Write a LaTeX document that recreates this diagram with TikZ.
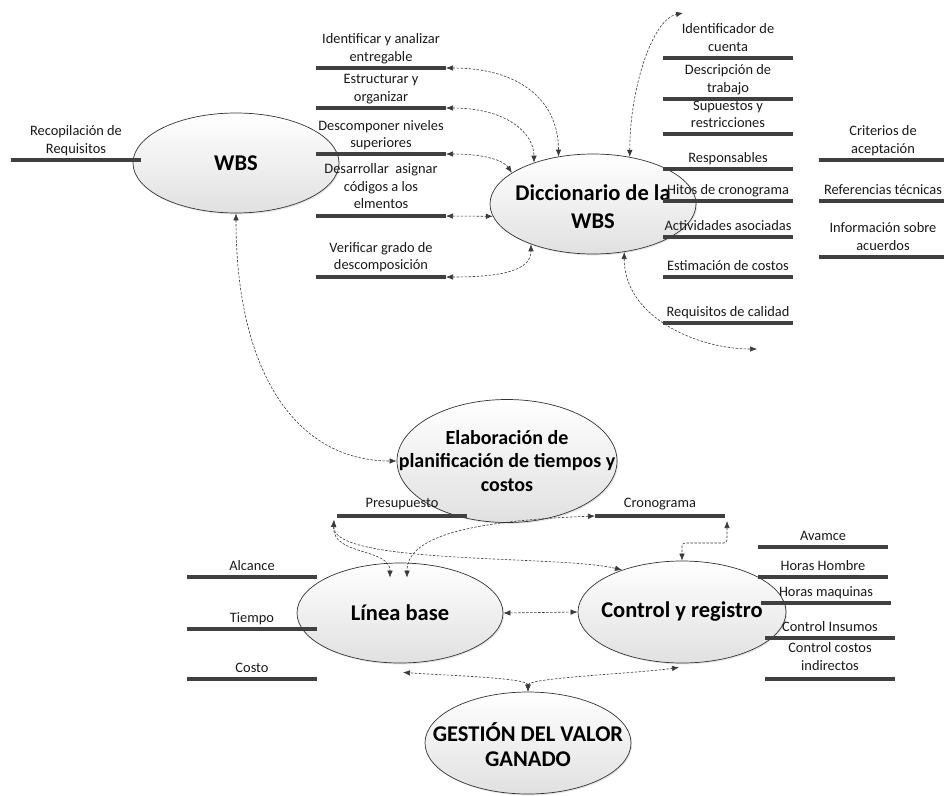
\documentclass[tikz,border=0pt]{standalone}
\usepackage{fontspec}
\setmainfont{Carlito}
\usetikzlibrary{shapes.geometric,arrows.meta,shadows,calc}
\definecolor{barc}{HTML}{404040}
\definecolor{linec}{HTML}{3A3A3A}
\begin{document}
\begin{tikzpicture}[x=1pt,y=-1pt,
  proc/.style={ellipse, draw=black!80, line width=0.7pt, top color=white, bottom color=black!12, inner sep=0pt,
     drop shadow={shadow xshift=1.2pt, shadow yshift=-1.4pt, opacity=0.2}},
  ptext/.style={font=\fontsize{22.5}{28}\selectfont\bfseries, align=center, inner sep=0pt},
  bar/.style={draw=barc, line width=4.6pt},
  lbl/.style={font=\fontsize{14.4}{17.5}\selectfont, align=center, anchor=base, inner sep=0pt, text=black!90},
  conn/.style={draw=linec, line width=0.6pt, dash pattern=on 2.5pt off 1.5pt,
     arrows={Latex[length=7pt,width=5.5pt]-Latex[length=7pt,width=5.5pt]}},
]
\useasboundingbox (0,0) rectangle (944,795);
\newcommand{\mkbar}[4]{\coordinate (#1a) at (#2,#4); \coordinate (#1b) at (#3,#4); \draw[bar] (#1a) -- (#1b);}

% ---------- processes ----------
\node[proc, minimum width=206, minimum height=100] (wbs) at (236,163) {};
\node[ptext] (wbst) at (wbs.center) {WBS};
\node[proc, minimum width=206, minimum height=100] (dic) at (593,204) {};
\node[ptext] (dict) at ($(dic.center)+(0,3)$) {Diccionario de la\\WBS};
\node[proc, minimum width=220, minimum height=123] (elab) at (507,461) {};
\node[ptext, font=\fontsize{20}{23.5}\selectfont\bfseries] (elabt) at ($(elab.center)+(0,0)$) {Elaboración de\\planificación de tiempos y\\costos};
\node[proc, minimum width=206, minimum height=100] (lb) at (400,613) {};
\node[ptext] (lbt) at (lb.center) {Línea base};
\node[proc, minimum width=208, minimum height=102] (ctl) at (682,612) {};
\node[ptext] (ctlt) at (ctl.center) {Control y registro};
\node[proc, minimum width=206, minimum height=102] (gv) at (528,743) {};
\node[ptext, font=\fontsize{22.5}{25}\selectfont\bfseries] (gvt) at ($(gv.center)+(0,2)$) {GESTIÓN DEL VALOR\\GANADO};

% ---------- data stores (label base = baseline of last line) ----------
\mkbar{rq}{11}{141}{160}
\node[lbl] (rqt) at (76,153) {Recopilación de\\Requisitos};

\mkbar{w1}{316}{446}{68}
\node[lbl] (w1t) at (381,61) {Identificar y analizar\\entregable};
\mkbar{w2}{316}{446}{108}
\node[lbl] (w2t) at (381,101) {Estructurar y\\organizar};
\mkbar{w3}{316}{446}{154}
\node[lbl] (w3t) at (381,147.5) {Descomponer niveles\\superiores};
\mkbar{w4}{316}{446}{216}
\node[lbl] (w4t) at (381,208.5) {Desarrollar\ \ asignar\\códigos a los\\elmentos};
\mkbar{w5}{316}{446}{277}
\node[lbl] (w5t) at (381,269.5) {Verificar grado de\\descomposición};

\mkbar{d1}{663}{793}{58}
\node[lbl] (d1t) at (728,51) {Identificador de\\cuenta};
\mkbar{d2}{663}{793}{99}
\node[lbl] (d2t) at (728,92) {Descripción de\\trabajo};
\mkbar{d3}{663}{793}{134}
\node[lbl] (d3t) at (728,127.5) {Supuestos y\\restricciones};
\mkbar{d4}{663}{793}{169}
\node[lbl] (d4t) at (728,162) {Responsables};
\mkbar{d5}{663}{793}{201}
\node[lbl] (d5t) at (728,194) {Hitos de cronograma};
\mkbar{d6}{663}{793}{237}
\node[lbl] (d6t) at (728,230) {Actividades asociadas};
\mkbar{d7}{663}{793}{277}
\node[lbl] (d7t) at (728,270) {Estimación de costos};
\mkbar{d8}{663}{793}{323}
\node[lbl] (d8t) at (728,316) {Requisitos de calidad};

\mkbar{f1}{819}{944}{160}
\node[lbl] (f1t) at (883,153) {Criterios de\\aceptación};
\mkbar{f2}{819}{944}{201}
\node[lbl] (f2t) at (883,194) {Referencias técnicas};
\mkbar{f3}{819}{944}{257}
\node[lbl] (f3t) at (883,250) {Información sobre\\acuerdos};

\mkbar{pr}{337}{467}{516}
\node[lbl] (prt) at (402,507) {Presupuesto};
\mkbar{cr}{595}{725}{516}
\node[lbl] (crt) at (660,507) {Cronograma};

\mkbar{al}{187}{317}{577}
\node[lbl] (alt) at (252,570) {Alcance};
\mkbar{ti}{187}{317}{629}
\node[lbl] (tit) at (252,622) {Tiempo};
\mkbar{co}{187}{317}{679}
\node[lbl] (cot) at (252,672) {Costo};

\mkbar{c1}{758}{888}{547}
\node[lbl] (c1t) at (823,540) {Avamce};
\mkbar{c2}{758}{888}{577}
\node[lbl] (c2t) at (823,570) {Horas Hombre};
\mkbar{c3}{761}{891}{603}
\node[lbl] (c3t) at (826,596) {Horas maquinas};
\mkbar{c4}{765}{895}{638}
\node[lbl] (c4t) at (830,631) {Control Insumos};
\mkbar{c5}{765}{895}{679}
\node[lbl] (c5t) at (830,670) {Control costos\\indirectos};

% ---------- free ends ----------
\coordinate (tup) at (683,13);
\coordinate (tdn) at (757,349);

% ---------- connectors ----------
\draw[conn] (w1b) .. controls +(75,0) and +(0,-55) .. (dic.126);
\draw[conn] (w2b) .. controls +(60,0) and +(0,-30) .. (dic.145);
\draw[conn] (w3b) .. controls +(40,0) and +(-8,-12) .. (dic.159);
\draw[conn] (w4b) -- (dic.187);
\draw[conn] (w5b) .. controls +(60,0) and +(0,25) .. (dic.213);
\draw[conn] (dic.52) .. controls +(0,-70) and +(-30,6) .. (tup);
\draw[conn] (dic.303) .. controls +(0,65) and +(-60,0) .. (tdn);
\draw[conn] (wbs.south) .. controls +(0,160) and +(-100,0) .. (elab.west);

\draw[conn] ($(pra)+(-3,4)$) .. controls +(-2,36) and +(0,-30) .. ($(lb.north)+(-10,15)$);
\draw[conn] ($(pra)+(-3,4)$) .. controls +(-2,45) and +(-60,-15) .. (ctl.145);
\draw[conn] (cra) .. controls +(-130,5) and +(0,-40) .. ($(lb.north)+(7,15)$);
\draw[conn, rounded corners=3pt] ($(crb)+(2,5)$) -- ++(0,22) -| (ctl.north);
\draw[conn] (lb.east) -- (ctl.west);
\draw[conn] (gv.north) .. controls +(0,-14) and +(40,3) .. ($(lb.south)+(3,9)$);
\draw[conn] (gv.north) .. controls +(0,-14) and +(-40,6) .. ($(ctl.south)+(-3,4)$);
\end{tikzpicture}
\end{document}
